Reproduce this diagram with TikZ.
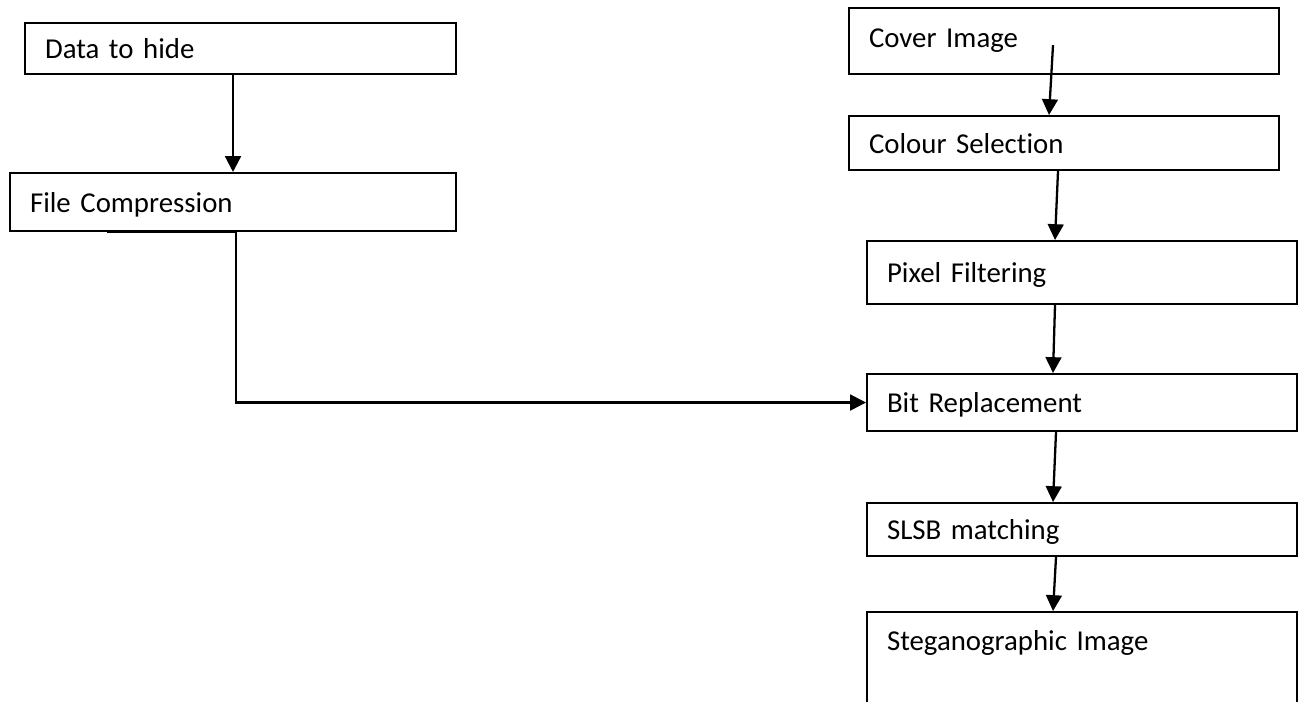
\documentclass[tikz,border=0pt]{standalone}
\usepackage{fontspec}
\setmainfont{Carlito}[Ligatures=NoCommon]
\usetikzlibrary{arrows.meta}

\begin{document}
\begin{tikzpicture}[x=0.02cm, y=-0.02cm,
            stage/.style={draw, line width=1.2pt, anchor=north west, align=left,
                            inner xsep=0.4cm, text width=7.8cm, text depth=0pt},
            flow/.style={line width=1.3pt, -{Triangle[length=9pt, width=9pt]}},
            every node/.style={font=\fontsize{16.4}{19}\selectfont},
        ]
            \useasboundingbox (0,0) rectangle (1299,702);
            \clip (0,0) rectangle (1299,702);
            \node[stage, text width=7.82cm, minimum height=1.02cm] (data)   at (24,22)   {Data to hide};
            \node[stage, text width=8.12cm, minimum height=1.16cm] (fc)     at (9,172)   {File Compression};
            \node[stage, minimum height=1.32cm, text depth=0.1cm]  (cover)  at (848,7)   {Cover Image};
            \node[stage, minimum height=1.08cm]                    (colour) at (848,115) {Colour Selection};
            \node[stage, minimum height=1.26cm]                    (pixel)  at (866,240) {Pixel Filtering};
            \node[stage, minimum height=1.14cm]                    (bit)    at (866,373) {Bit Replacement};
            \node[stage, minimum height=1.06cm]                    (slsb)   at (866,502) {SLSB matching};
            \node[stage, inner ysep=0pt, text height=0.766cm, text depth=2cm] (steg) at (866,611) {Steganographic Image};
            \draw[flow] (data.south -| fc.north) -- (fc.north);
            \draw[flow] ([shift={(-126,0)}]fc.south) -- ([shift={(3,0)}]fc.south) |- (bit.west);
            \draw[flow] ([shift={(-11,-30)}]cover.south) -- ([shift={(-15,0)}]colour.north);
            \draw[flow] ([shift={(-6,0)}]colour.south) -- ([shift={(-27,0)}]pixel.north);
            \draw[flow] ([shift={(-27,0)}]pixel.south) -- ([shift={(-29,0)}]bit.north);
            \draw[flow] ([shift={(-26,0)}]bit.south) -- ([shift={(-29,0)}]slsb.north);
            \draw[flow] ([shift={(-26,0)}]slsb.south) -- ([shift={(-29,0)}]steg.north);
        \end{tikzpicture}
\end{document}
